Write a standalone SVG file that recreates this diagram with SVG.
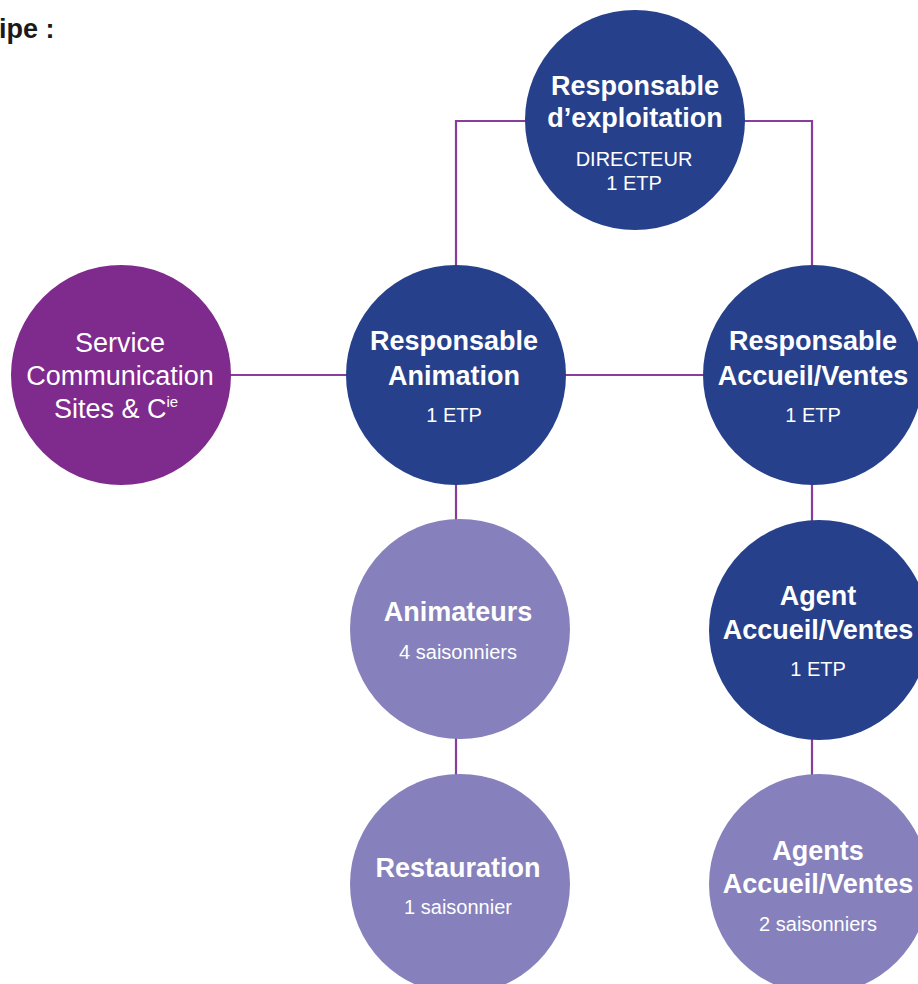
<svg xmlns="http://www.w3.org/2000/svg" width="918" height="984" viewBox="0 0 918 984">
<style>
.dark{fill:#26408c}
.purple{fill:#7f2a8d}
.light{fill:#8681bc}
.conn{fill:none;stroke:#883d9b;stroke-width:2.2}
text{font-family:"Liberation Sans",Arial,sans-serif;fill:#ffffff;text-anchor:middle}
.h{font-size:27px;font-weight:bold}
.s{font-size:20px}
.t{font-size:27px}
.title{font-size:27px;font-weight:bold;fill:#1a1a1a;text-anchor:start}
</style>
<rect width="918" height="984" fill="#ffffff"/>
<text class="title" x="-1" y="38">ipe :</text>
<g id="connectors">
<path class="conn" d="M456,300 V121 H560"/>
<path class="conn" d="M710,121 H812 V300"/>
<path class="conn" d="M200,375 H380"/>
<path class="conn" d="M530,375 H740"/>
<path class="conn" d="M456,450 V560"/>
<path class="conn" d="M456,700 V810"/>
<path class="conn" d="M812,450 V560"/>
<path class="conn" d="M812,700 V810"/>
</g>
<g id="responsable-exploitation">
<circle class="dark" cx="635" cy="120" r="110"/>
<text class="h" x="635" y="95">Responsable</text>
<text class="h" x="635" y="127">d’exploitation</text>
<text class="s" x="634" y="166">DIRECTEUR</text>
<text class="s" x="634" y="190">1 ETP</text>
</g>
<g id="service-communication">
<circle class="purple" cx="121" cy="375" r="110"/>
<text class="t" x="120" y="352">Service</text>
<text class="t" x="120" y="385">Communication</text>
<text class="t" x="116" y="418">Sites &amp; C<tspan font-size="15" dy="-11">ie</tspan></text>
</g>
<g id="responsable-animation">
<circle class="dark" cx="456" cy="375" r="110"/>
<text class="h" x="454" y="350">Responsable</text>
<text class="h" x="454" y="385">Animation</text>
<text class="s" x="454" y="422">1 ETP</text>
</g>
<g id="responsable-accueil">
<circle class="dark" cx="813" cy="375" r="110"/>
<text class="h" x="813" y="350">Responsable</text>
<text class="h" x="813" y="385">Accueil/Ventes</text>
<text class="s" x="813" y="422">1 ETP</text>
</g>
<g id="animateurs">
<circle class="light" cx="460" cy="629" r="110"/>
<text class="h" x="458" y="621">Animateurs</text>
<text class="s" x="458" y="659">4 saisonniers</text>
</g>
<g id="agent-accueil">
<circle class="dark" cx="819" cy="630" r="110"/>
<text class="h" x="818" y="605">Agent</text>
<text class="h" x="818" y="639">Accueil/Ventes</text>
<text class="s" x="818" y="676">1 ETP</text>
</g>
<g id="restauration">
<circle class="light" cx="460" cy="884" r="110"/>
<text class="h" x="458" y="877">Restauration</text>
<text class="s" x="458" y="914">1 saisonnier</text>
</g>
<g id="agents-accueil">
<circle class="light" cx="819" cy="884" r="110"/>
<text class="h" x="818" y="860">Agents</text>
<text class="h" x="818" y="893">Accueil/Ventes</text>
<text class="s" x="818" y="931">2 saisonniers</text>
</g>
</svg>
